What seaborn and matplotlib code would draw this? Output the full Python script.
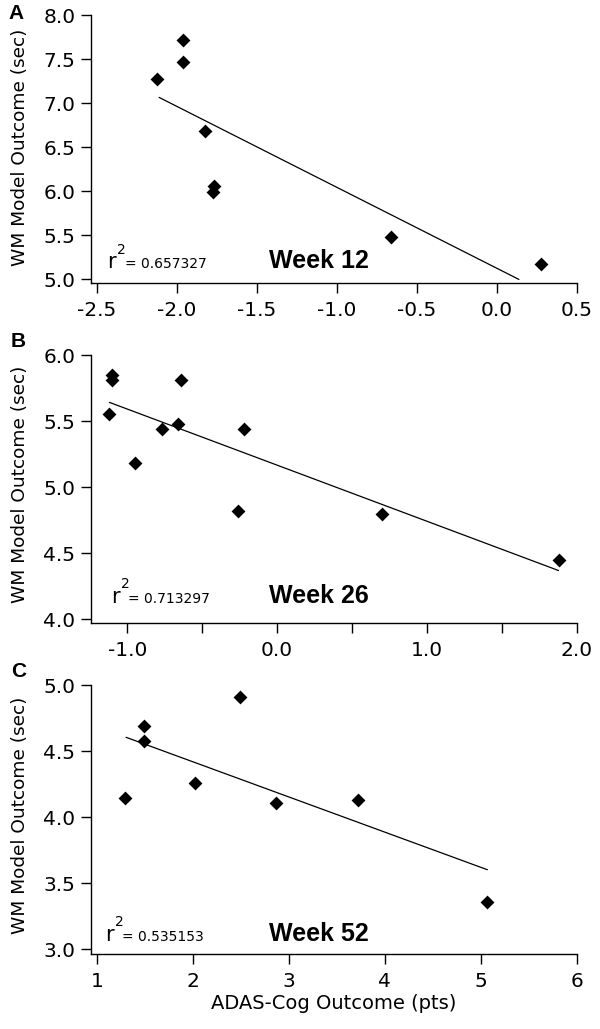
import numpy as np
import matplotlib
matplotlib.use("Agg")
import matplotlib.pyplot as plt
import seaborn as sns

# values
week12_x = [-2.12, -1.96, -1.96, -1.82, -1.765, -1.77, -0.66, 0.275]
week12_y = [7.28, 7.72, 7.47, 6.68, 6.06, 5.99, 5.48, 5.17]

week26_x = [-1.105, -1.105, -1.12, -0.64, -0.95, -0.77, -0.66, -0.22, -0.26, 0.70, 1.88]
week26_y = [5.85, 5.81, 5.55, 5.81, 5.185, 5.44, 5.48, 5.44, 4.82, 4.80, 4.45]

week52_x = [1.29, 1.485, 1.485, 2.015, 2.49, 2.865, 3.715, 5.065]
week52_y = [4.145, 4.69, 4.58, 4.26, 4.91, 4.105, 4.13, 3.355]

# x span over which each fitted line is drawn
fit_span = [[-2.11, 0.14], [-1.12, 1.88], [1.30, 5.07]]

week_labels = ["Week 12", "Week 26", "Week 52"]
panel_letters = ["A", "B", "C"]
r2_values = ["0.657327", "0.713297", "0.535153"]

x_ticks = [
    [-2.5, -2.0, -1.5, -1.0, -0.5, 0.0, 0.5],
    [-1.0, -0.5, 0.0, 0.5, 1.0, 1.5, 2.0],
    [1, 2, 3, 4, 5, 6],
]
x_ticklabels = [
    ["-2.5", "-2.0", "-1.5", "-1.0", "-0.5", "0.0", "0.5"],
    ["-1.0", "", "0.0", "", "1.0", "", "2.0"],
    ["1", "2", "3", "4", "5", "6"],
]
y_ticks = [
    [5.0, 5.5, 6.0, 6.5, 7.0, 7.5, 8.0],
    [4.0, 4.5, 5.0, 5.5, 6.0],
    [3.0, 3.5, 4.0, 4.5, 5.0],
]
x_lims = [(-2.5375, 0.5), (-1.245, 2.0), (0.931, 6.0)]
y_lims = [(4.955, 8.0), (3.97, 6.0), (2.965, 5.0)]

sns.set_style("ticks")
plt.rcParams["font.family"] = ["DejaVu Sans"]
plt.rcParams["axes.unicode_minus"] = False
plt.rcParams["text.color"] = "black"

fig = plt.figure(figsize=(6, 10.29), dpi=100)
W, H = 600, 1029

# axes boxes in pixels: left, top, right, bottom
boxes = [(90.7, 15.3, 576.5, 283.3), (90.7, 355.0, 576.5, 623.3), (90.7, 685.0, 576.5, 954.0)]
r2_pos = [(0.034, 0.056), (0.042, 0.077), (0.029, 0.049)]
week_pos = [(0.469, 0.056), (0.469, 0.0745), (0.469, 0.0495)]
letter_pos = [(8.5, 19.0), (11.0, 347.0), (11.0, 677.0)]
ylabel_y = [0.508, 0.518, 0.516]

data = [(week12_x, week12_y), (week26_x, week26_y), (week52_x, week52_y)]

for i, (xs, ys) in enumerate(data):
    l, t, r, b = boxes[i]
    ax = fig.add_axes([l / W, 1 - b / H, (r - l) / W, (b - t) / H])

    sns.scatterplot(x=xs, y=ys, ax=ax, marker="D", color="black", s=50,
                    linewidth=0, zorder=3)

    slope, intercept = np.polyfit(xs, ys, 1)
    fx = np.array(fit_span[i])
    sns.lineplot(x=fx, y=slope * fx + intercept, ax=ax, color="black", lw=0.9)

    ax.set_xlim(*x_lims[i])
    ax.set_ylim(*y_lims[i])
    ax.set_xticks(x_ticks[i])
    ax.set_xticklabels(x_ticklabels[i])
    ax.set_yticks(y_ticks[i])
    ax.set_yticklabels(["%.1f" % v for v in y_ticks[i]])
    ax.tick_params(axis="both", length=7, width=1.0, color="black", labelsize=14.5,
                   labelcolor="black")
    ax.tick_params(axis="x", pad=6)
    ax.tick_params(axis="y", pad=4)
    sns.despine(ax=ax)
    for s in ["left", "bottom"]:
        ax.spines[s].set_linewidth(1.0)
        ax.spines[s].set_color("black")

    ax.set_ylabel("WM Model Outcome (sec)", fontsize=13.3, color="black")
    ax.yaxis.set_label_coords(-0.127, ylabel_y[i])

    rx, ry = r2_pos[i]
    ax.text(rx, ry, "r", transform=ax.transAxes, fontsize=15, va="baseline", ha="left")
    ax.annotate("2", xy=(rx, ry), xycoords="axes fraction", xytext=(7.4, 10.5),
                textcoords="offset points", fontsize=10, va="baseline")
    ax.annotate("= " + r2_values[i], xy=(rx, ry), xycoords="axes fraction",
                xytext=(12.5, 0), textcoords="offset points", fontsize=10,
                va="baseline")

    wx, wy = week_pos[i]
    ax.text(wx, wy, week_labels[i], transform=ax.transAxes, fontsize=18,
            fontweight="bold", family="Liberation Sans", ha="center", va="baseline",
            color="black")

    lx, ly = letter_pos[i]
    fig.text(lx / W, 1 - ly / H, panel_letters[i], fontsize=15, fontweight="bold",
             family="Liberation Sans", ha="left", va="baseline", color="black")

    if i == 2:
        ax.set_xlabel("ADAS-Cog Outcome (pts)", fontsize=14, labelpad=2, color="black")

fig.savefig("out.png", dpi=100)
